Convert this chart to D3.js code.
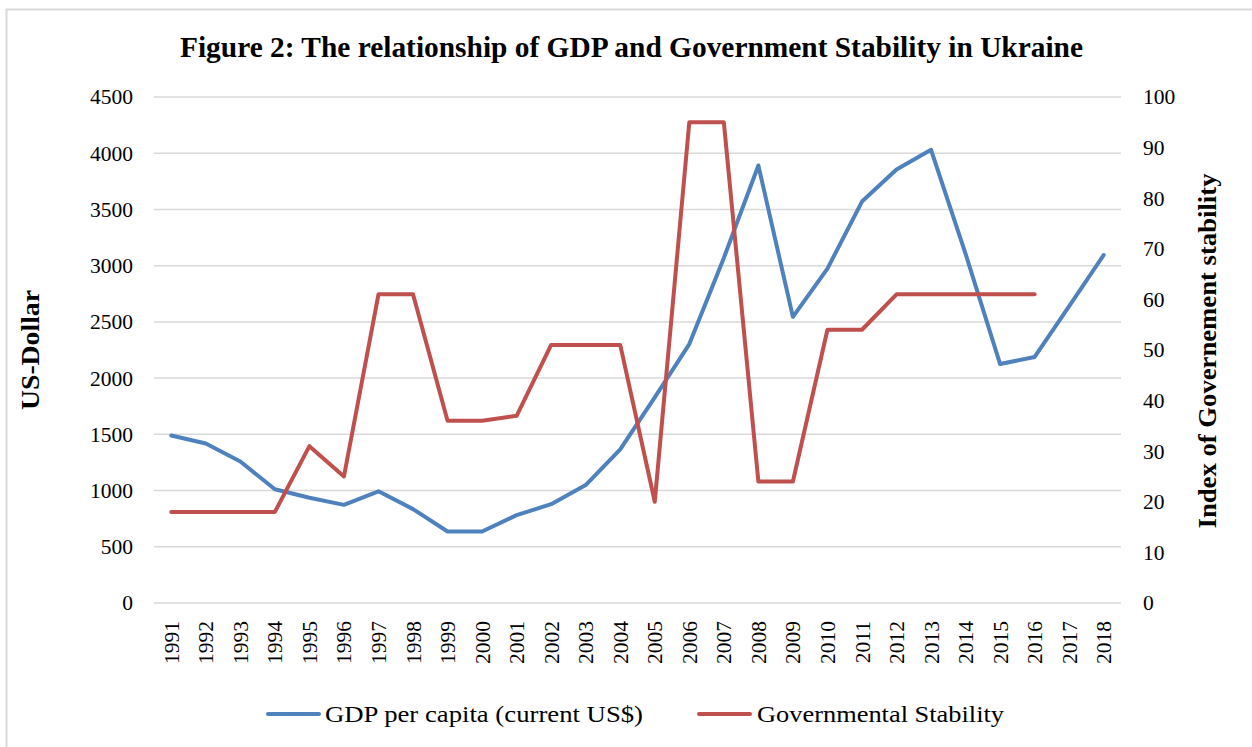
<!DOCTYPE html>
<html>
<head>
<meta charset="utf-8">
<script src="https://cdn.jsdelivr.net/npm/d3@7"></script>
<style>
  html, body { margin: 0; padding: 0; background: #fff; }
  svg { display: block; }
  text { font-family: "Liberation Serif", "Times New Roman", serif; fill: #000; }
</style>
</head>
<body>
<svg id="chart" width="1252" height="747"></svg>
<script>
// Years on the category axis
const years = [1991, 1992, 1993, 1994, 1995, 1996, 1997, 1998, 1999, 2000,
  2001, 2002, 2003, 2004, 2005, 2006, 2007, 2008, 2009, 2010,
  2011, 2012, 2013, 2014, 2015, 2016, 2017, 2018];

// GDP per capita, current US$
const gdpPerCapita = [1490, 1418, 1258, 1012, 936, 873, 993, 835, 636, 636,
  781, 879, 1049, 1367, 1829, 2303, 3069, 3891, 2545, 2974,
  3570, 3856, 4030, 3105, 2125, 2188, 2640, 3095];

// Governmental stability index (no values after 2016)
const govStability = [18, 18, 18, 18, 31, 25, 61, 61, 36, 36,
  37, 51, 51, 51, 20, 95, 95, 24, 24, 54,
  54, 61, 61, 61, 61, 61, null, null];

const leftTicks = [0, 500, 1000, 1500, 2000, 2500, 3000, 3500, 4000, 4500];
const rightTicks = [0, 10, 20, 30, 40, 50, 60, 70, 80, 90, 100];

const titleText = "Figure 2: The relationship of GDP and Government Stability in Ukraine";
const leftTitle = "US-Dollar";
const rightTitle = "Index of Governement stability";
const seriesNames = ["GDP per capita (current US$)", "Governmental Stability"];

const blue = "#4F81BD", red = "#C0504D";

const svg = d3.select("#chart");

// outer frame of the chart area
svg.append("rect")
  .attr("x", 6.5).attr("y", 9.5)
  .attr("width", 1260).attr("height", 760)
  .attr("fill", "none").attr("stroke", "#d9d9d9").attr("stroke-width", 2);

const plot = { left: 154, right: 1121, top: 97, bottom: 603 };

const x = d3.scaleBand().domain(years).range([plot.left, plot.right]).padding(0);
const cx = d => x(d) + x.bandwidth() / 2;
const yL = d3.scaleLinear().domain([0, 4500]).range([plot.bottom, plot.top]);
const yR = d3.scaleLinear().domain([0, 100]).range([plot.bottom, plot.top]);

// horizontal gridlines
svg.append("g").selectAll("line").data(leftTicks).join("line")
  .attr("x1", plot.left).attr("x2", plot.right)
  .attr("y1", d => yL(d)).attr("y2", d => yL(d))
  .attr("stroke", "#d9d9d9").attr("stroke-width", 1.5);

const styleTicks = sel => sel.selectAll("text")
  .attr("font-size", 21.5).attr("font-family", "Liberation Serif").attr("fill", "#000");

// left axis labels
const axL = svg.append("g").attr("transform", `translate(${plot.left - 21},0)`)
  .call(d3.axisLeft(yL).tickValues(leftTicks).tickFormat(d3.format("d")).tickSize(0).tickPadding(0));
axL.select(".domain").remove();
styleTicks(axL);

// right axis labels
const axR = svg.append("g").attr("transform", `translate(${plot.right + 22},0)`)
  .call(d3.axisRight(yR).tickValues(rightTicks).tickFormat(d3.format("d")).tickSize(0).tickPadding(0));
axR.select(".domain").remove();
styleTicks(axR);

// category labels, rotated
const axX = svg.append("g").attr("transform", `translate(0,${plot.bottom + 18})`)
  .call(d3.axisBottom(x).tickSize(0).tickPadding(0));
axX.select(".domain").remove();
styleTicks(axX);
axX.selectAll("text")
  .attr("text-anchor", "end")
  .attr("transform", "rotate(-90)")
  .attr("x", 0).attr("y", 0).attr("dy", "0.35em");

// series lines
const lineGdp = d3.line().x((d, i) => cx(years[i])).y(d => yL(d));
const lineGov = d3.line().defined(d => d != null).x((d, i) => cx(years[i])).y(d => yR(d));

svg.append("path").datum(gdpPerCapita)
  .attr("d", lineGdp).attr("fill", "none")
  .attr("stroke", blue).attr("stroke-width", 4)
  .attr("stroke-linejoin", "round").attr("stroke-linecap", "round");

svg.append("path").datum(govStability)
  .attr("d", lineGov).attr("fill", "none")
  .attr("stroke", red).attr("stroke-width", 4)
  .attr("stroke-linejoin", "round").attr("stroke-linecap", "round");

// title
svg.append("text")
  .attr("x", 180).attr("y", 57)
  .attr("font-size", 29).attr("font-weight", "bold")
  .attr("textLength", 903).attr("lengthAdjust", "spacingAndGlyphs")
  .text(titleText);

// axis titles
svg.append("text")
  .attr("transform", "translate(39,350) rotate(-90)")
  .attr("text-anchor", "middle")
  .attr("font-size", 26).attr("font-weight", "bold")
  .attr("textLength", 120).attr("lengthAdjust", "spacingAndGlyphs")
  .text(leftTitle);

svg.append("text")
  .attr("transform", "translate(1216,351) rotate(-90)")
  .attr("text-anchor", "middle")
  .attr("font-size", 26).attr("font-weight", "bold")
  .attr("textLength", 355).attr("lengthAdjust", "spacingAndGlyphs")
  .text(rightTitle);

// legend
const legendItems = [
  { name: seriesNames[0], color: blue, x0: 268, tx: 325, tw: 318 },
  { name: seriesNames[1], color: red, x0: 699, tx: 757, tw: 247 }
];
const lg = svg.append("g");
legendItems.forEach(it => {
  lg.append("line")
    .attr("x1", it.x0).attr("x2", it.x0 + 51)
    .attr("y1", 714).attr("y2", 714)
    .attr("stroke", it.color).attr("stroke-width", 4).attr("stroke-linecap", "round");
  lg.append("text")
    .attr("x", it.tx).attr("y", 722)
    .attr("font-size", 23)
    .attr("textLength", it.tw).attr("lengthAdjust", "spacingAndGlyphs")
    .text(it.name);
});
</script>
</body>
</html>
